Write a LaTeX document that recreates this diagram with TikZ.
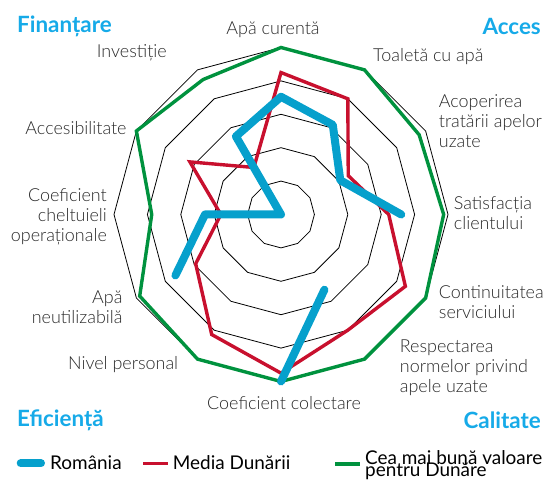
\documentclass[tikz,border=0pt]{standalone}
\usepackage{fontspec}
\IfFontExistsTF{Lato Light}{\newfontfamily\labfam{Lato Light}}{\newfontfamily\labfam{Lato}}
\newfontfamily\regfam{Lato}
\definecolor{roblue}{RGB}{6,160,204}
\definecolor{dured}{RGB}{200,16,46}
\definecolor{bestgreen}{RGB}{0,146,62}
\definecolor{titlecyan}{RGB}{22,170,232}
\definecolor{labgray}{RGB}{40,40,40}
\tikzset{
  ring/.style={draw=black, line width=0.8bp},
  serieR/.style={draw=roblue, line width=8bp, line cap=round, line join=round},
  serieM/.style={draw=dured, line width=3.4bp, line join=miter},
  serieG/.style={draw=bestgreen, line width=3.4bp, line join=miter},
  lab/.style={font=\labfam\fontsize{18}{20}\selectfont, text=labgray, inner sep=0pt},
  cattitle/.style={font=\regfam\bfseries\fontsize{22.5}{26}\selectfont, text=titlecyan, inner sep=0pt},
  legtext/.style={font=\regfam\fontsize{19}{14}\selectfont, text=black, inner sep=0pt, anchor=base west},
}
\begin{document}
\begin{tikzpicture}[x=1bp,y=1bp]
\useasboundingbox (0,0) rectangle (544,480);
\coordinate (O) at (281,265.5);
\begin{scope}[shift={(281,265.5)}]
  % rings
  \foreach \k in {1,...,5}{
    \draw[ring] (90:{\k*33.4}) \foreach \a in {1,...,11}{ -- ({90-30*\a}:{\k*33.4}) } -- cycle;
  }
  % data points
  \foreach \v [count=\i from 0] in {1.0,1.0,0.955,0.974,1.0,1.0,1.0,1.0,0.977,0.774,1.0,0.933}
    \coordinate (g\i) at ({90-30*\i}:{\v*167});
  \foreach \v [count=\i from 0] in {0.85,0.80,0.465,0.645,0.86,0.80,0.95,0.83,0.59,0.36,0.63,0.325}
    \coordinate (m\i) at ({90-30*\i}:{\v*167});
  \foreach \v [count=\i from 0] in {0.705,0.62,0.41,0.72,0,0.52,1.0,0,0.73,0.455,0,0.54}
    \coordinate (r\i) at ({90-30*\i}:{\v*167});
  \draw[serieG] (g0) -- (g1) -- (g2) -- (g3) -- (g4) -- (g5) -- (g6) -- (g7) -- (g8) -- (g9) -- (g10) -- (g11) -- cycle;
  \draw[serieM] (m0) -- (m1) -- (m2) -- (m3) -- (m4) -- (m5) -- (m6) -- (m7) -- (m8) -- (m9) -- (m10) -- (m11) -- cycle;
  \draw[serieR] (r8) -- (r9) -- (r10) -- (r11) -- (r0) -- (r1) -- (r2) -- (r3);
  \draw[serieR] (r5) -- (r6);
\end{scope}
% axis labels
\node[lab] (l0) at (273,450) {Apă curentă};
\node[lab, anchor=west] (l1) at (373,423.3) {Toaletă cu apă};
\node[lab, anchor=west, align=left] (l2) at (438.7,359) {Acoperirea\\tratării apelor\\uzate};
\node[lab, anchor=west, align=left] (l3) at (453.7,266.7) {Satisfacția\\clientului};
\node[lab, anchor=west, align=left] (l4) at (438.7,177.5) {Continuitatea\\serviciului};
\node[lab, anchor=west, align=left] (l5) at (399.7,112.2) {Respectarea\\normelor privind\\apele uzate};
\node[lab] (l6) at (284,76.7) {Coeficient colectare};
\node[lab, anchor=east] (l7) at (178.3,115) {Nivel personal};
\node[lab, anchor=east, align=right] (l8) at (122.7,173) {Apă\\neutilizabilă};
\node[lab, anchor=east, align=right] (l9) at (107,263.5) {Coeficient\\cheltuieli\\operaționale};
\node[lab, anchor=east] (l10) at (126.7,351.7) {Accesibilitate};
\node[lab, anchor=west] (l11) at (96.7,426.7) {Investiție};
% category titles
\node[cattitle, anchor=west] (t1) at (17,454) {Finanțare};
\node[cattitle, anchor=east] (t2) at (541,454) {Acces};
\node[cattitle, anchor=west] (t3) at (17,60) {Eficiență};
\node[cattitle, anchor=east] (t4) at (541,60) {Calitate};
% legend
\coordinate (kb1) at (20.7,16.7);
\coordinate (kb2) at (41,16.7);
\draw[serieR] (kb1) -- (kb2);
\node[legtext] (kbt) at (50,10.7) {România};
\coordinate (km1) at (143,16.5);
\coordinate (km2) at (168,16.5);
\draw[serieM] (km1) -- (km2);
\node[legtext] (kmt) at (172.7,10.7) {Media Dunării};
\coordinate (kg1) at (335,16);
\coordinate (kg2) at (360,16);
\draw[serieG] (kg1) -- (kg2);
\node[legtext] (kgt1) at (365,15.5) {Cea mai bună valoare};
\node[legtext] (kgt2) at (365,3.5) {pentru Dunăre};
\end{tikzpicture}
\end{document}
